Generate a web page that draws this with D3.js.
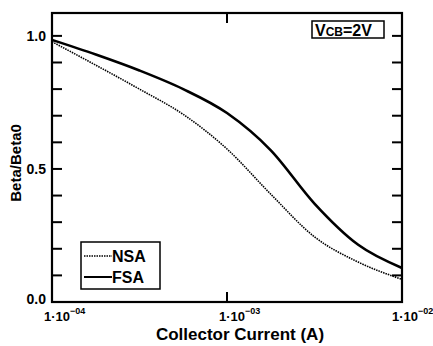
<!DOCTYPE html>
<html>
<head>
<meta charset="utf-8">
<script src="https://cdn.jsdelivr.net/npm/d3@7"></script>
<style>
  body { margin: 0; background: #fff; }
  text { font-family: "Liberation Sans", Arial, sans-serif; font-weight: bold; fill: #000; }
</style>
</head>
<body>
<div id="chart"></div>
<script>
var margin = {top: 13, right: 31, bottom: 44, left: 52},
    width = 433,
    height = 346;

// collector current (A), quarter-decade steps
var current = [1e-4, 1.78e-4, 3.16e-4, 5.62e-4, 1e-3, 1.78e-3, 3.16e-3, 5.62e-3, 1e-2];
// Beta/Beta0
var fsa = [0.985, 0.93, 0.87, 0.80, 0.71, 0.57, 0.37, 0.215, 0.128];
var nsa = [0.978, 0.89, 0.80, 0.705, 0.575, 0.405, 0.245, 0.15, 0.085];

var xTicks = [1e-4, 1e-3, 1e-2];
var xTickLabels = ['04', '03', '02'];
var yMajor = [0, 0.5, 1.0];
var yMinor = d3.range(0, 11).map(d => d / 10);

var w = width - margin.left - margin.right,
    h = height - margin.top - margin.bottom;

var svg = d3.select('#chart').append('svg')
  .attr('width', width)
  .attr('height', height);

var g = svg.append('g')
  .attr('transform', `translate(${margin.left},${margin.top})`);

var x = d3.scaleLog().domain([1e-4, 1e-2]).range([0, w]);
var y = d3.scaleLinear().domain([0, 1.086]).range([h, 0]);

// ticks, inward on all four sides
var tl = 10;
g.selectAll('.ytick-l').data(yMinor).enter().append('line')
  .attr('x1', 0).attr('x2', tl)
  .attr('y1', d => y(d)).attr('y2', d => y(d))
  .attr('stroke', '#000').attr('stroke-width', 2);
g.selectAll('.ytick-r').data(yMinor).enter().append('line')
  .attr('x1', w - tl).attr('x2', w)
  .attr('y1', d => y(d)).attr('y2', d => y(d))
  .attr('stroke', '#000').attr('stroke-width', 2);
g.selectAll('.xtick-b').data(xTicks).enter().append('line')
  .attr('x1', d => x(d)).attr('x2', d => x(d))
  .attr('y1', h).attr('y2', h - tl)
  .attr('stroke', '#000').attr('stroke-width', 2);
g.selectAll('.xtick-t').data(xTicks).enter().append('line')
  .attr('x1', d => x(d)).attr('x2', d => x(d))
  .attr('y1', 0).attr('y2', tl)
  .attr('stroke', '#000').attr('stroke-width', 2);

// frame
g.append('rect')
  .attr('width', w).attr('height', h)
  .attr('fill', 'none').attr('stroke', '#000').attr('stroke-width', 2.2);

// y labels
g.selectAll('.ylab').data(yMajor).enter().append('text')
  .attr('x', -6).attr('y', d => y(d) + (d === 0 ? 2 : 5))
  .attr('text-anchor', 'end')
  .style('font-size', '14px')
  .text(d => d.toFixed(1));

// x labels: 1·10^-0N
var xl = g.selectAll('.xlab').data(xTicks).enter().append('text')
  .attr('x', (d, i) => i === xTicks.length - 1 ? x(d) - 10 : x(d) - 8)
  .attr('y', h + 19)
  .style('font-size', '13px');
xl.append('tspan').text('1·10');
xl.append('tspan').attr('dy', -7)
  .style('font-size', '9px')
  .text((d, i) => '\u2212' + xTickLabels[i]);

// axis titles
svg.append('text')
  .attr('x', 240).attr('y', height - 6)
  .attr('text-anchor', 'middle')
  .style('font-size', '17px')
  .text('Collector Current (A)');
svg.append('text')
  .attr('transform', `translate(21,${margin.top + y(0.5) - 6}) rotate(-90)`)
  .attr('text-anchor', 'middle')
  .style('font-size', '15px')
  .text('Beta/Beta0');

// curves
var line = d3.line()
  .x(d => x(d[0]))
  .y(d => y(d[1]))
  .curve(d3.curveMonotoneX);

g.append('path')
  .datum(d3.zip(current, nsa))
  .attr('d', line)
  .attr('fill', 'none').attr('stroke', '#000')
  .attr('stroke-width', 1.6).attr('stroke-dasharray', '1.5,1');

g.append('path')
  .datum(d3.zip(current, fsa))
  .attr('d', line)
  .attr('fill', 'none').attr('stroke', '#000')
  .attr('stroke-width', 2.6);

// legend
var lg = g.append('g').attr('transform', 'translate(29,229)');
lg.append('rect')
  .attr('width', 79).attr('height', 47)
  .attr('fill', '#fff').attr('stroke', '#000').attr('stroke-width', 1.5);
var legendItems = [{name: 'NSA', dash: '1.5,1', sw: 1.6}, {name: 'FSA', dash: null, sw: 2}];
legendItems.forEach(function(d, i) {
  var yy = 14 + i * 21;
  lg.append('line')
    .attr('x1', 3).attr('x2', 31).attr('y1', yy).attr('y2', yy)
    .attr('stroke', '#000').attr('stroke-width', d.sw)
    .attr('stroke-dasharray', d.dash);
  lg.append('text')
    .attr('x', 31).attr('y', yy + 6)
    .style('font-size', '16px')
    .text(d.name);
});

// VCB=2V box
var vb = g.append('g').attr('transform', `translate(${w - 90},8)`);
vb.append('rect')
  .attr('width', 72).attr('height', 17)
  .attr('fill', '#fff').attr('stroke', '#000').attr('stroke-width', 1.5);
var vt = vb.append('text').attr('x', 3).attr('y', 15).style('font-size', '16px');
vt.append('tspan').text('V');
vt.append('tspan').style('font-size', '12px').text('CB');
vt.append('tspan').text('=2V');
</script>
</body>
</html>
